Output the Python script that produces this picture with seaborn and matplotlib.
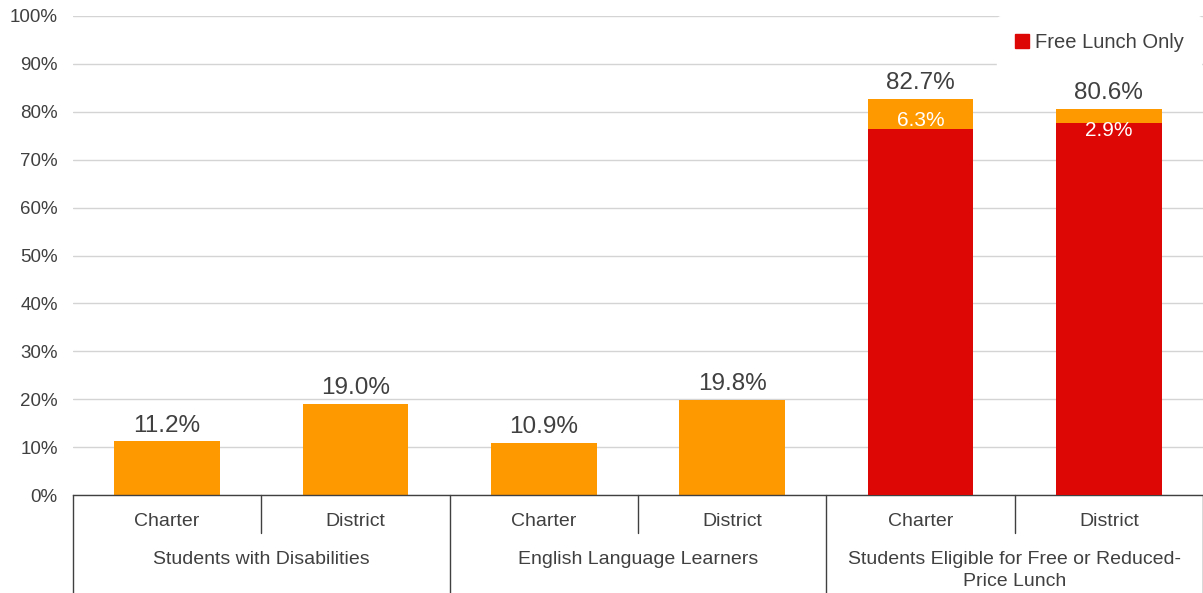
import pandas as pd
import seaborn as sns
import matplotlib.pyplot as plt
from matplotlib.transforms import blended_transform_factory
from matplotlib.patches import Patch

# data
groups = ["Students with Disabilities", "English Language Learners",
          "Students Eligible for Free or Reduced-\nPrice Lunch"]
sectors = ["Charter", "District"]
total_pct = [11.2, 19.0, 10.9, 19.8, 82.7, 80.6]
free_pct = [0, 0, 0, 0, 76.4, 77.7]
reduced_pct = [None, None, None, None, 6.3, 2.9]
yticks = [0, 10, 20, 30, 40, 50, 60, 70, 80, 90, 100]

ORANGE = "#FF9900"
RED = "#DD0806"
TXT = "#404040"

sns.set_theme(style="white")
plt.rcParams['font.family'] = ['Liberation Sans', 'DejaVu Sans']

bars = [g + "|" + s for g in groups for s in sectors]
df = pd.DataFrame({"bar": bars, "total": total_pct, "free": free_pct})

fig = plt.figure(figsize=(12.03, 5.93), dpi=100)
ax = fig.add_axes([73 / 1203, 98 / 593, 1130 / 1203, 479 / 593])

sns.barplot(data=df, x="bar", y="total", color=ORANGE, width=0.56,
            saturation=1, ax=ax, zorder=2, linewidth=0)
sns.barplot(data=df, x="bar", y="free", color=RED, width=0.56,
            saturation=1, ax=ax, zorder=3, linewidth=0)

ax.set_xlim(-0.5, len(bars) - 0.5)
ax.set_ylim(0, 100)
ax.set_yticks(yticks)
ax.set_yticklabels(["{}%".format(t) for t in yticks], fontsize=13.5, color=TXT)
ax.tick_params(axis="y", length=0, pad=11)
ax.set_xticks([])
ax.set_xlabel("")
ax.set_ylabel("")
ax.yaxis.grid(True, color="#d4d4d4", lw=1)
ax.set_axisbelow(True)
for s in ["left", "top", "right"]:
    ax.spines[s].set_visible(False)
ax.spines["bottom"].set_color(TXT)
ax.spines["bottom"].set_linewidth(1)

# value labels
for i, v in enumerate(total_pct):
    ax.text(i, v + 3.3, "{:.1f}%".format(v), ha="center", va="center",
            fontsize=17.5, color=TXT)
for i, v in enumerate(reduced_pct):
    if v is not None:
        ax.text(i, total_pct[i] - 4.5, "{:.1f}%".format(v), ha="center",
                va="center", fontsize=15, color="white", zorder=5)

# two-level category axis
trans = blended_transform_factory(ax.transData, ax.transAxes)
for i, b in enumerate(bars):
    ax.text(i, -0.056, b.split("|")[1], transform=trans, ha="center",
            va="center", fontsize=14, color=TXT)
for j, g in enumerate(groups):
    ax.text(2 * j + 0.5, -0.116, g, transform=trans, ha="center", va="top",
            fontsize=14, color=TXT, linespacing=1.4)
for k in range(len(groups) + 1):
    ax.plot([2 * k - 0.5] * 2, [0, -0.21], transform=trans, clip_on=False,
            color=TXT, lw=1)
for k in range(len(groups)):
    ax.plot([2 * k + 0.5] * 2, [0, -0.079], transform=trans, clip_on=False,
            color=TXT, lw=1)

leg = ax.legend(handles=[Patch(color=RED, label="Free Lunch Only")],
                loc="upper right", bbox_to_anchor=(0.998, 1.0), borderaxespad=0,
                borderpad=0.85, frameon=True, facecolor="white",
                edgecolor="white", framealpha=1, fontsize=14.5,
                handlelength=0.7, handleheight=0.7, handletextpad=0.3)
for t in leg.get_texts():
    t.set_color(TXT)

fig.savefig("out.png", dpi=100)
